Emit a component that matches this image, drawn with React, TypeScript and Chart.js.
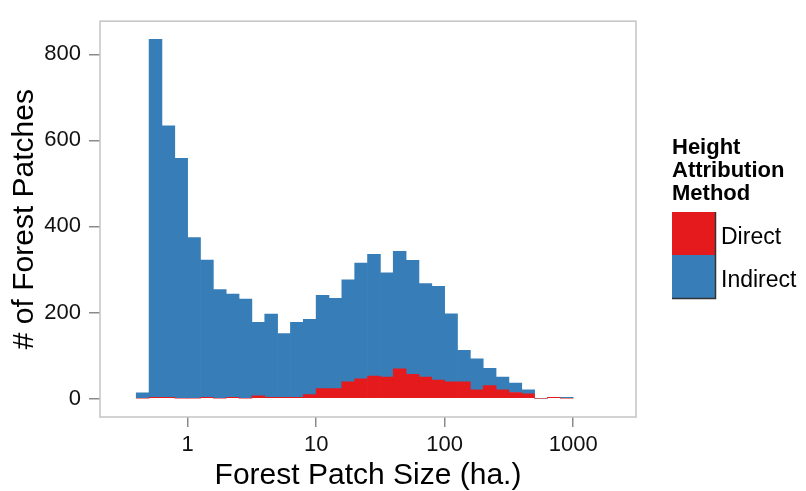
import React, { useEffect, useRef } from "react";
import { Chart, registerables } from "chart.js";

Chart.register(...registerables);

// log10 bin centres of patch size (ha.)
const binCenters = [
  -0.35, -0.25, -0.15, -0.05, 0.05, 0.15, 0.25, 0.35, 0.45, 0.55, 0.65, 0.75,
  0.85, 0.95, 1.05, 1.15, 1.25, 1.35, 1.45, 1.55, 1.65, 1.75, 1.85, 1.95, 2.05,
  2.15, 2.25, 2.35, 2.45, 2.55, 2.65, 2.75, 2.85, 2.95,
];
const directCounts = [
  0, 3, 3, 0, 0, 3, 0, 3, 0, 6, 3, 3, 3, 9, 23, 23, 39, 46, 52, 50, 69, 56, 50,
  43, 39, 39, 20, 30, 20, 14, 11, 0, 3, 0,
];
const indirectCounts = [
  13, 832, 631, 558, 374, 319, 253, 240, 231, 171, 193, 148, 174, 175, 217, 210,
  237, 269, 283, 242, 273, 265, 217, 218, 158, 73, 72, 40, 30, 22, 9, 0, 0, 3,
];
const xTickLogs = [0, 1, 2, 3];
const yTicks = [0, 200, 400, 600, 800];
const seriesNames = ["Direct", "Indirect"];
const seriesColors = ["#E41A1C", "#377EB8"];
const legendTitle = ["Height", "Attribution", "Method"];
const xTitle = "Forest Patch Size (ha.)";
const yTitle = "# of Forest Patches";

const FONT = "'Liberation Sans', Arial, sans-serif";

const decorPlugin = {
  id: "decor",
  afterDraw(chart: any) {
    const { ctx, chartArea } = chart;
    const { left, right, top, bottom } = chartArea;
    ctx.save();
    // panel border
    ctx.strokeStyle = "#c4c4c4";
    ctx.lineWidth = 1.5;
    ctx.strokeRect(left, top, right - left, bottom - top);

    // axis titles
    ctx.fillStyle = "#000";
    ctx.font = `30px ${FONT}`;
    ctx.textAlign = "center";
    ctx.textBaseline = "alphabetic";
    ctx.fillText(xTitle, (left + right) / 2, 484);
    ctx.save();
    ctx.translate(33, (top + bottom) / 2);
    ctx.rotate(-Math.PI / 2);
    ctx.fillText(yTitle, 0, 0);
    ctx.restore();

    // legend
    ctx.textAlign = "left";
    ctx.font = `bold 22px ${FONT}`;
    const titleBaselines = [153.5, 176.5, 200];
    legendTitle.forEach((t, i) => ctx.fillText(t, 672, titleBaselines[i]));
    const keyX = 672;
    const keyW = 43;
    const keyH = 43;
    const keyTop = 212;
    ctx.font = `23px ${FONT}`;
    seriesNames.forEach((name, i) => {
      ctx.fillStyle = seriesColors[i];
      ctx.fillRect(keyX, keyTop + i * keyH, keyW, keyH);
      ctx.fillStyle = "#000";
      ctx.fillText(name, 721, keyTop + i * keyH + 31.5);
    });
    ctx.strokeStyle = "#333";
    ctx.lineWidth = 1.5;
    ctx.beginPath();
    ctx.moveTo(keyX + keyW + 0.5, keyTop);
    ctx.lineTo(keyX + keyW + 0.5, keyTop + 2 * keyH + 0.5);
    ctx.lineTo(keyX, keyTop + 2 * keyH + 0.5);
    ctx.stroke();
    ctx.restore();
  },
};

export default function App() {
  const canvasRef = useRef<HTMLCanvasElement | null>(null);

  useEffect(() => {
    document.body.style.margin = "0";
    const canvas = canvasRef.current;
    if (!canvas) return;
    const chart = new Chart(canvas, {
      type: "bar",
      data: {
        datasets: [
          {
            label: seriesNames[0],
            data: binCenters.map((x, i) => ({ x, y: directCounts[i] })),
            backgroundColor: seriesColors[0],
            borderWidth: 0,
            barPercentage: 1,
            categoryPercentage: 1,
          },
          {
            label: seriesNames[1],
            data: binCenters.map((x, i) => ({ x, y: indirectCounts[i] })),
            backgroundColor: seriesColors[1],
            borderWidth: 0,
            barPercentage: 1,
            categoryPercentage: 1,
          },
        ],
      },
      options: {
        animation: false,
        responsive: false,
        devicePixelRatio: 1,
        layout: { padding: { top: 12.5, right: 170, left: 0, bottom: 0 } },
        plugins: { legend: { display: false }, tooltip: { enabled: false } },
        scales: {
          x: {
            type: "linear",
            stacked: true,
            offset: false,
            min: -0.682,
            max: 3.489,
            afterBuildTicks: (scale: any) => {
              scale.ticks = xTickLogs.map((v) => ({ value: v }));
            },
            afterFit: (scale: any) => {
              scale.height = 74;
            },
            grid: {
              display: true,
              offset: false,
              drawOnChartArea: false,
              drawTicks: true,
              tickLength: 10,
              color: "#8a8a8a",
              lineWidth: 1.5,
            },
            border: { display: false },
            ticks: {
              padding: 5,
              color: "#111",
              font: { family: FONT, size: 22 },
              maxRotation: 0,
              callback: (v: any) => String(Math.round(Math.pow(10, Number(v)))),
            },
          },
          y: {
            type: "linear",
            stacked: true,
            min: -43,
            max: 877,
            afterBuildTicks: (scale: any) => {
              scale.ticks = yTicks.map((v) => ({ value: v }));
            },
            afterFit: (scale: any) => {
              scale.width = 100;
            },
            grid: {
              display: true,
              drawOnChartArea: false,
              drawTicks: true,
              tickLength: 11,
              color: "#8a8a8a",
              lineWidth: 1.5,
            },
            border: { display: false },
            ticks: {
              padding: 8,
              color: "#111",
              font: { family: FONT, size: 22 },
              callback: (v: any) => String(v),
            },
          },
        },
      },
      plugins: [decorPlugin],
    });
    return () => chart.destroy();
  }, []);

  return (
    <div style={{ position: "fixed", left: 0, top: 0, width: 806, height: 491, background: "#fff" }}>
      <canvas ref={canvasRef} width={806} height={491} style={{ width: 806, height: 491 }} />
    </div>
  );
}
